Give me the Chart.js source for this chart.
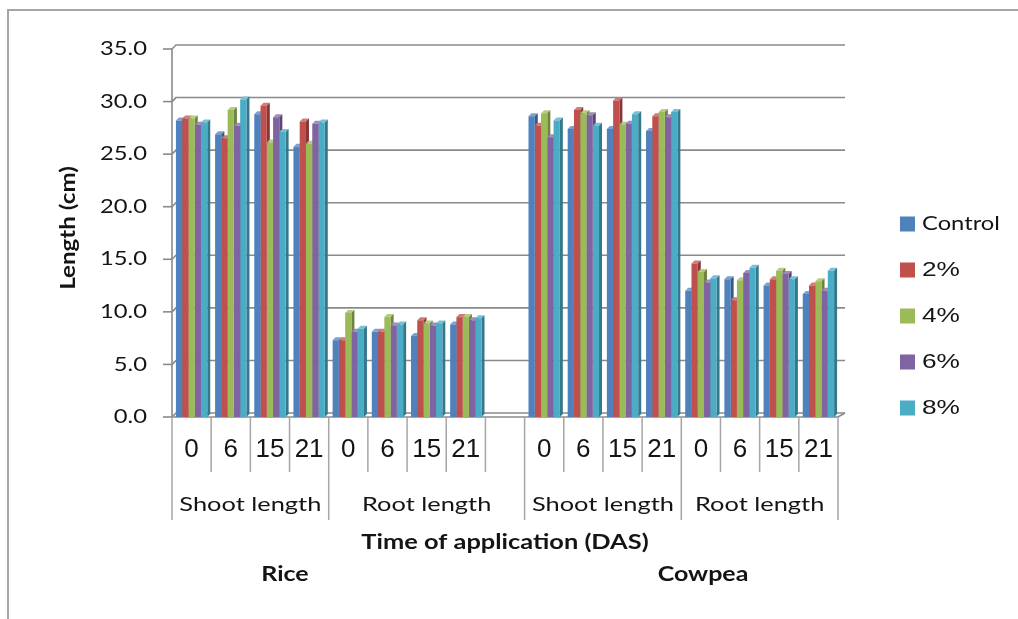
<!DOCTYPE html>
<html>
<head>
<meta charset="utf-8">
<script src="https://cdn.jsdelivr.net/npm/chart.js@4.4.1/dist/chart.umd.min.js"></script>
<style>
  html, body { margin: 0; padding: 0; background: #fff; }
  canvas { display: block; }
</style>
</head>
<body>
<canvas id="lengthChart" width="1018" height="619"></canvas>
<script>
// 横軸の日数ラベル（空欄は作物の区切り）
const dayLabels = ['0', '6', '15', '21', '0', '6', '15', '21', '', '0', '6', '15', '21', '0', '6', '15', '21'];

// 2段目のラベルとその幅（カテゴリ数）
const groupLabels = ['Shoot length', 'Root length', 'Shoot length', 'Root length'];
const groupSpans = [4, 5, 4, 4];

// 作物名
const cropLabels = ['Rice', 'Cowpea'];

// 系列名と色
const seriesNames = ['Control', '2%', '4%', '6%', '8%'];
const seriesColors = ['#4F81BD', '#C0504D', '#9BBB59', '#8064A2', '#4BACC6'];

// 各系列の長さ（cm）
const controlValues = [28.2, 26.9, 28.8, 25.7, 7.3, 8.1, 7.7, 8.8, null, 28.6, 27.4, 27.4, 27.2, 12.0, 13.1, 12.5, 11.7];
const p2Values      = [28.4, 26.5, 29.6, 28.1, 7.3, 8.1, 9.2, 9.5, null, 27.7, 29.2, 30.1, 28.6, 14.6, 11.1, 13.1, 12.5];
const p4Values      = [28.4, 29.2, 26.1, 26.0, 9.9, 9.5, 8.9, 9.5, null, 28.9, 28.9, 27.8, 29.0, 13.8, 13.0, 13.9, 12.9];
const p6Values      = [27.8, 27.7, 28.5, 27.9, 8.1, 8.7, 8.7, 9.2, null, 26.6, 28.7, 27.9, 28.5, 12.8, 13.7, 13.6, 12.0];
const p8Values      = [28.0, 30.2, 27.1, 28.0, 8.4, 8.8, 8.9, 9.4, null, 28.2, 27.7, 28.8, 29.0, 13.2, 14.2, 13.1, 13.9];

// 縦軸の目盛り
const yTicks = [0, 5, 10, 15, 20, 25, 30, 35];

const seriesValues = [controlValues, p2Values, p4Values, p6Values, p8Values];

const FONT = 'Lato, "Open Sans", sans-serif';
const ARIAL = '"Liberation Sans", Arial, sans-serif';
const DEPTH = 4;       // 奥の壁のずれ
const BAR_DEPTH = 3;   // 棒の奥行き
const GRID = '#8a8a8a';
const LINE = '#a6a6a6';
const TEXT = '#141414';

// 色を明るく／暗くする
function shade(hex, f) {
  const n = parseInt(hex.slice(1), 16);
  let r = (n >> 16) & 255, g = (n >> 8) & 255, b = n & 255;
  if (f >= 0) {
    r += (255 - r) * f; g += (255 - g) * f; b += (255 - b) * f;
  } else {
    r *= 1 + f; g *= 1 + f; b *= 1 + f;
  }
  return `rgb(${Math.round(r)}, ${Math.round(g)}, ${Math.round(b)})`;
}

// 横に少し伸ばして文字を描く
function drawText(ctx, text, x, y, font, align, sx, baseline) {
  ctx.save();
  ctx.font = font;
  ctx.fillStyle = TEXT;
  ctx.textAlign = align;
  ctx.textBaseline = baseline || 'middle';
  ctx.translate(x, y);
  ctx.scale(sx, 1);
  ctx.fillText(text, 0, 0);
  ctx.restore();
}

function line(ctx, pts, color, width) {
  ctx.save();
  ctx.strokeStyle = color;
  ctx.lineWidth = width;
  ctx.beginPath();
  ctx.moveTo(pts[0][0], pts[0][1]);
  for (let i = 1; i < pts.length; i++) ctx.lineTo(pts[i][0], pts[i][1]);
  ctx.stroke();
  ctx.restore();
}

// 枠・壁・目盛り・ラベルなどを描くプラグイン
const excelLook = {
  id: 'excelLook',
  beforeDraw(chart) {
    const ctx = chart.ctx;
    ctx.save();
    ctx.fillStyle = '#fff';
    ctx.fillRect(0, 0, chart.width, chart.height);
    ctx.restore();
    // 外枠
    line(ctx, [[8, 619], [8, 10], [1018, 10]], LINE, 2);
  },
  beforeDatasetsDraw(chart) {
    const ctx = chart.ctx;
    const area = chart.chartArea;
    const y = chart.scales.y;
    const wallRight = area.right + 7;

    // 奥の壁の目盛り線
    yTicks.forEach(v => {
      const py = y.getPixelForValue(v);
      line(ctx, [[area.left, py], [area.left + DEPTH, py - DEPTH], [wallRight, py - DEPTH]], GRID, 1.6);
      line(ctx, [[area.left - 9, py], [area.left, py]], GRID, 1.6);
    });
    // 左の壁と床
    line(ctx, [[area.left, y.getPixelForValue(35)], [area.left, area.bottom]], GRID, 1.6);
    line(ctx, [[area.left, area.bottom], [area.right, area.bottom], [wallRight, area.bottom - DEPTH]], GRID, 1.6);

    // 棒の上面と側面（正面はChart.jsが描く）
    const metas = seriesValues.map((_, i) => chart.getDatasetMeta(i));
    for (let j = 0; j < dayLabels.length; j++) {
      metas.forEach((meta, i) => {
        if (seriesValues[i][j] == null) return;
        const bar = meta.data[j].getProps(['x', 'y', 'base', 'width'], true);
        const l = bar.x - bar.width / 2, r = bar.x + bar.width / 2;
        const d = BAR_DEPTH;
        ctx.save();
        ctx.fillStyle = shade(seriesColors[i], 0.25);
        ctx.beginPath();
        ctx.moveTo(l, bar.y); ctx.lineTo(r, bar.y);
        ctx.lineTo(r + d, bar.y - d); ctx.lineTo(l + d, bar.y - d);
        ctx.closePath(); ctx.fill();
        ctx.fillStyle = shade(seriesColors[i], -0.3);
        ctx.beginPath();
        ctx.moveTo(r, bar.y); ctx.lineTo(r + d, bar.y - d);
        ctx.lineTo(r + d, bar.base - d); ctx.lineTo(r, bar.base);
        ctx.closePath(); ctx.fill();
        ctx.restore();
      });
    }
  },
  afterDatasetsDraw(chart) {
    const ctx = chart.ctx;
    const area = chart.chartArea;
    const x = chart.scales.x;
    const y = chart.scales.y;
    const step = (area.right - area.left) / dayLabels.length;

    // 縦軸ラベルとタイトル
    yTicks.forEach(v => {
      drawText(ctx, v.toFixed(1), 147, y.getPixelForValue(v), `19px ${FONT}`, 'right', 1.25);
    });
    ctx.save();
    ctx.translate(68, 228);
    ctx.rotate(-Math.PI / 2);
    drawText(ctx, 'Length (cm)', 0, 0, `bold 21px ${FONT}`, 'center', 1.15);
    ctx.restore();

    // 横軸の区切り線
    const groupEdges = [0];
    groupSpans.forEach(s => groupEdges.push(groupEdges[groupEdges.length - 1] + s));
    for (let k = 0; k <= dayLabels.length; k++) {
      const px = area.left + k * step;
      const long = groupEdges.includes(k);
      line(ctx, [[px, area.bottom], [px, long ? 520 : 472]], LINE, 1.5);
    }
    // 日数ラベル
    dayLabels.forEach((lab, k) => {
      if (lab) drawText(ctx, lab, x.getPixelForValue(k), 450, `26px ${ARIAL}`, 'center', 1);
    });
    // 部位ラベル
    groupLabels.forEach((lab, g) => {
      const cx = area.left + (groupEdges[g] + groupEdges[g + 1]) / 2 * step;
      drawText(ctx, lab, cx, 511, `20px ${FONT}`, 'center', 1.27, 'alphabetic');
    });
    drawText(ctx, 'Time of application (DAS)', 505, 549, `bold 20px ${FONT}`, 'center', 1.27, 'alphabetic');
    drawText(ctx, cropLabels[0], 285, 581, `bold 20px ${FONT}`, 'center', 1.25, 'alphabetic');
    drawText(ctx, cropLabels[1], 703, 581, `bold 20px ${FONT}`, 'center', 1.25, 'alphabetic');

    // 凡例
    seriesNames.forEach((name, i) => {
      const cy = 224 + i * 46;
      ctx.save();
      ctx.fillStyle = seriesColors[i];
      ctx.fillRect(900, cy - 7.5, 15, 15);
      ctx.restore();
      if (i === 0) {
        drawText(ctx, name, 922, cy, `19px ${FONT}`, 'left', 1.25);
      } else {
        drawText(ctx, name, 922, cy, `21px ${ARIAL}`, 'left', 1.25);
      }
    });
  }
};

document.addEventListener('DOMContentLoaded', function() {
  const ctx = document.getElementById('lengthChart').getContext('2d');
  new Chart(ctx, {
    type: 'bar',
    data: {
      labels: dayLabels,
      datasets: seriesNames.map((name, i) => ({
        label: name,
        data: seriesValues[i],
        backgroundColor: seriesColors[i],
        borderWidth: 0,
        categoryPercentage: 0.8,
        barPercentage: 1.0
      }))
    },
    options: {
      responsive: false,
      devicePixelRatio: 1,
      animation: false,
      layout: { padding: { left: 172, right: 180, top: 49, bottom: 202 } },
      scales: {
        x: { display: false },
        y: { display: false, min: 0, max: 35 }
      },
      plugins: {
        legend: { display: false },
        tooltip: { enabled: false }
      }
    },
    plugins: [excelLook]
  });
});
</script>
</body>
</html>
